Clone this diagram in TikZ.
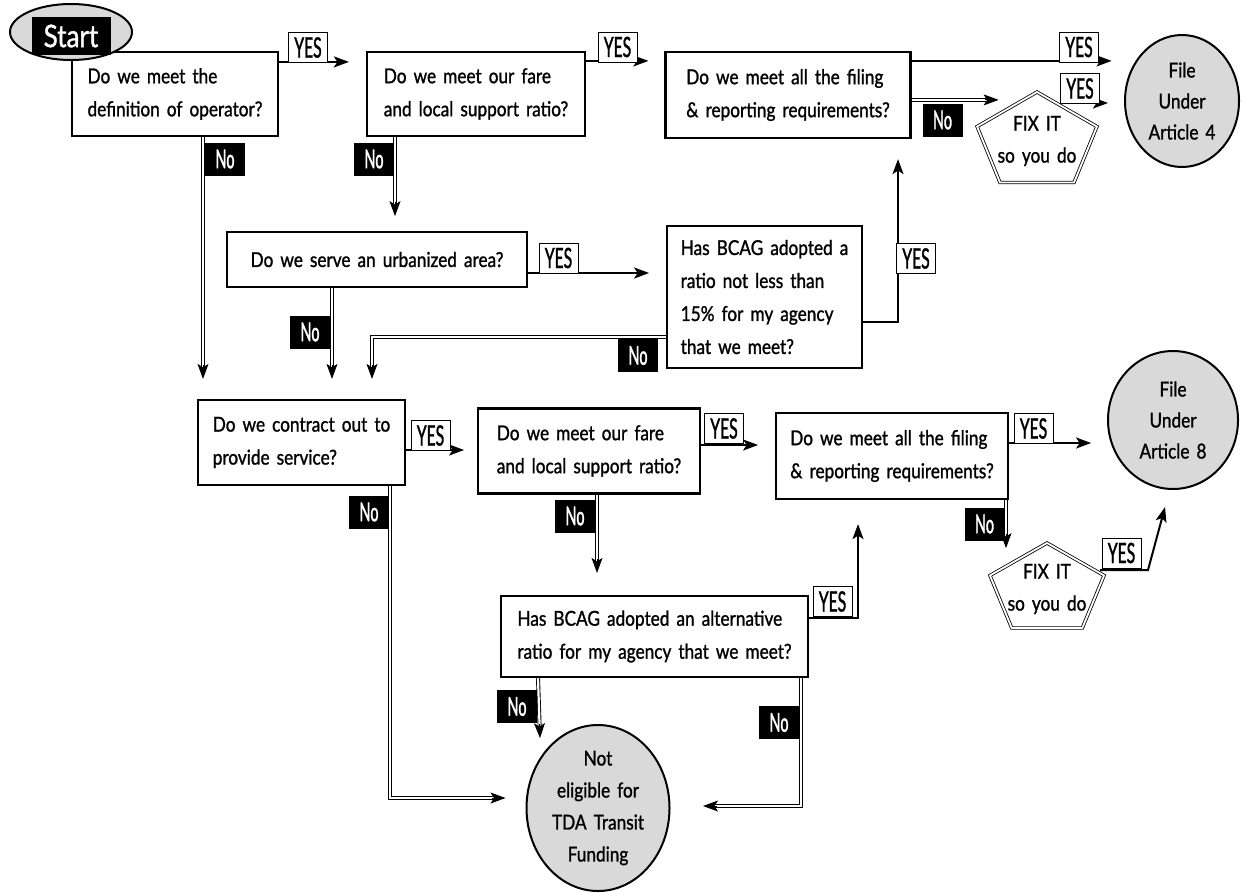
\documentclass[tikz,border=0pt]{standalone}
\usepackage{fontspec}
\setmainfont{Lato}[FakeStretch=0.84, WordSpace=1.6, FakeBold=1.2]
\newfontfamily\lblfont{Lato}[FakeStretch=0.56, FakeBold=1.3]
\usetikzlibrary{arrows.meta,shapes.geometric,calc}
\definecolor{shade}{RGB}{217,217,217}
\tikzset{
  box/.style={draw, line width=2.2pt, fill=white, align=left, inner sep=0pt,
    font=\fontsize{20.5}{33}\selectfont},
  term/.style={ellipse, draw, line width=2pt, fill=shade, align=center, inner sep=0pt,
    font=\fontsize{20.5}{31}\selectfont},
  yeslbl/.style={draw, line width=0.8pt, fill=white, inner sep=0pt, minimum width=39pt,
    minimum height=30pt, font=\lblfont\fontsize{28}{28}\selectfont},
  nolbl/.style={fill=black, text=white, inner sep=0pt, minimum width=40pt,
    minimum height=33pt, font=\lblfont\fontsize{26}{26}\selectfont},
  yes/.style={line width=2pt, -{Stealth[length=15pt,width=11pt,inset=3.5pt]}},
  nol/.style={double=white, double distance=2.2pt, line width=0.9pt, shorten >=12pt},
  tip/.style={line width=0.9pt, -{Stealth[length=15pt,width=11pt,inset=3.5pt]}},
  fixtxt/.style={inner sep=0pt, align=center, font=\fontsize{20.5}{32}\selectfont},
  penta/.style={double=white, double distance=1.8pt, line width=0.8pt}
}
\begin{document}
\begin{tikzpicture}[x=1pt,y=-1pt]
\fill[white] (0,0) rectangle (1246,892);
\useasboundingbox (0,0) rectangle (1246,892);

% ---- boxes
\node[box, minimum width=206pt, minimum height=84pt] (box1) at (175,94) {Do we meet the\\definition of operator?};
\node[box, minimum width=218pt, minimum height=84pt] (box2) at (476,94) {Do we meet our fare\\and local support ratio?};
\node[box, minimum width=245pt, minimum height=86pt] (box3) at (788,95) {Do we meet all the filing\\\& reporting requirements?};
\node[box, minimum width=300pt, minimum height=55pt] (urban) at (377,259.5) {Do we serve an urbanized area?};
\node[box, minimum width=195pt, minimum height=142pt] (bcag) at (764.5,297) {Has BCAG adopted a\\ratio not less than\\15\% for my agency\\that we meet?};
\node[box, minimum width=207pt, minimum height=85pt] (contract) at (301.5,442.5) {Do we contract out to\\provide service?};
\node[box, minimum width=222pt, minimum height=85pt] (fare2) at (589,451) {Do we meet our fare\\and local support ratio?};
\node[box, minimum width=232pt, minimum height=86pt] (box4) at (892,456) {Do we meet all the filing\\\& reporting requirements?};
\node[box, minimum width=307pt, minimum height=81pt] (alt) at (654.5,636.5) {Has BCAG adopted an alternative\\ratio for my agency that we meet?};

% ---- terminals
\node[term, minimum width=122pt, minimum height=56pt] (start) at (71,32) {};
\node[fill=black, text=white, inner sep=0pt, minimum width=79pt, minimum height=38pt,
  font=\fontsize{31}{31}\selectfont] (startlbl) at (71,36) {Start};
\node[term, minimum width=114pt, minimum height=132pt] (file4) at (1182,101) {File\\Under\\Article 4};
\node[term, minimum width=130pt, minimum height=138pt] (file8) at (1173,420) {File\\Under\\Article 8};
\node[term, minimum width=143pt, minimum height=166pt, font=\fontsize{20.5}{32}\selectfont] (noelig) at (598,808) {Not\\eligible for\\TDA Transit\\Funding};

% ---- FIX IT pentagons
\node[fixtxt] (fix4) at (1037,141) {FIX IT\\so you do};
\begin{scope}[shift={(1037,142)}, xscale=63, yscale=50]
  \draw[penta] (0,-1) -- (0.951,-0.309) -- (0.588,0.809) -- (-0.588,0.809) -- (-0.951,-0.309) -- cycle;
\end{scope}
\node[fixtxt] (fix8) at (1047,589) {FIX IT\\so you do};
\begin{scope}[shift={(1047,590)}, xscale=60, yscale=47]
  \draw[penta] (0,-1) -- (0.951,-0.309) -- (0.588,0.809) -- (-0.588,0.809) -- (-0.951,-0.309) -- cycle;
\end{scope}

% ---- tip coordinates
\coordinate (t4) at ($(box3.north east)+(87,49)$);
\coordinate (t6) at ($(contract.north)+(-98.5,-20)$);
\coordinate (t7) at ($(box2.south)+(-81,79)$);
\coordinate (t9) at ($(contract.north)+(30.5,-20)$);
\coordinate (t10) at ($(contract.north)+(70.5,-20)$);
\coordinate (t13) at ($(noelig.west)+(-20,-10)$);
\coordinate (t15) at ($(alt.north)+(-57.5,-22)$);
\coordinate (t17) at ($(box4.south)+(114,48)$);
\coordinate (t20) at ($(alt.south)+(-114.5,60)$);
\coordinate (t21) at ($(noelig.east)+(32.5,-2)$);

% ---- YES connectors
\draw[yes, shorten >=17pt] ([yshift=-11pt]box1.north east) -- ([yshift=-11pt]box2.north west);
\draw[yes, shorten >=16pt] ([yshift=-10pt]box2.north east) -- ([yshift=-10pt]box3.north west);
\draw[yes] ([yshift=-10pt]box3.north east) -- ++(200,0);
\draw[yes] ($(fix4)+(23,-38)$) -- ++(48,0);
\draw[yes] ([yshift=-13.5pt]urban.east) -- ++(121,0);
\draw[yes] ([yshift=-25pt]bcag.east) -| ($(box3.south)+(110,20)$);
\draw[yes] ([yshift=-7.5pt]contract.east) -- ++(58,0);
\draw[yes] ([yshift=6pt]fare2.east) -- ++(57,0);
\draw[yes] ([yshift=13pt]box4.east) -- ++(82,0);
\draw[yes] ($(fix8)+(53,-19)$) -- ++(48,0) -- ++(17,-63);
\draw[yes] ([yshift=18.5pt]alt.east) -| ($(box4.south)+(-34,24)$);

% ---- No connectors (double lines)
\draw[nol] ([yshift=-49pt]box3.north east) -- (t4);   \draw[tip] ($(t4)+(-14,0)$) -- (t4);
\draw[nol] ([xshift=28pt]box1.south) -- (t6);         \draw[tip] ($(t6)+(0,-14)$) -- (t6);
\draw[nol] ([xshift=-81pt]box2.south) -- (t7);        \draw[tip] ($(t7)+(0,-14)$) -- (t7);
\draw[nol] ([xshift=-45pt]urban.south) -- (t9);       \draw[tip] ($(t9)+(0,-14)$) -- (t9);
\draw[nol] ([yshift=-40pt]bcag.west) -| (t10);        \draw[tip] ($(t10)+(0,-14)$) -- (t10);
\draw[nol] ([xshift=88.5pt]contract.south) |- (t13);  \draw[tip] ($(t13)+(-14,0)$) -- (t13);
\draw[nol] ([xshift=8pt]fare2.south) -- (t15);        \draw[tip] ($(t15)+(0,-14)$) -- (t15);
\draw[nol] ([xshift=114pt]box4.south) -- (t17);       \draw[tip] ($(t17)+(0,-14)$) -- (t17);
\draw[nol] ([xshift=-116.5pt]alt.south) -- (t20);     \draw[tip] ($(t20)+(-0.5,-14)$) -- (t20);
\draw[nol] ([xshift=146.5pt]alt.south) |- (t21);      \draw[tip] ($(t21)+(14,0)$) -- (t21);

% ---- labels
\node[yeslbl] (y1) at (308,47.5) {YES};
\node[yeslbl] (y2) at (617.5,47) {YES};
\node[yeslbl] (y3) at (1079,47) {YES};
\node[yeslbl] (y4) at (1080,88.5) {YES};
\node[yeslbl] (y5) at (558.5,258) {YES};
\node[yeslbl] (y6) at (916,258.5) {YES};
\node[yeslbl] (y7) at (430.5,435.5) {YES};
\node[yeslbl] (y8) at (724,428.5) {YES};
\node[yeslbl] (y9) at (1033.5,428.5) {YES};
\node[yeslbl] (y10) at (1121.5,553) {YES};
\node[yeslbl] (y11) at (832.5,601.5) {YES};

\node[nolbl] (n1) at (225,159) {No};
\node[nolbl] (n2) at (374,159) {No};
\node[nolbl] (n3) at (942.5,120) {No};
\node[nolbl] (n4) at (310,332) {No};
\node[nolbl] (n5) at (638,355.5) {No};
\node[nolbl] (n6) at (369,512) {No};
\node[nolbl] (n7) at (575,516) {No};
\node[nolbl] (n8) at (984.5,524) {No};
\node[nolbl] (n9) at (517,706.5) {No};
\node[nolbl] (n10) at (779,722.5) {No};
\end{tikzpicture}
\end{document}
